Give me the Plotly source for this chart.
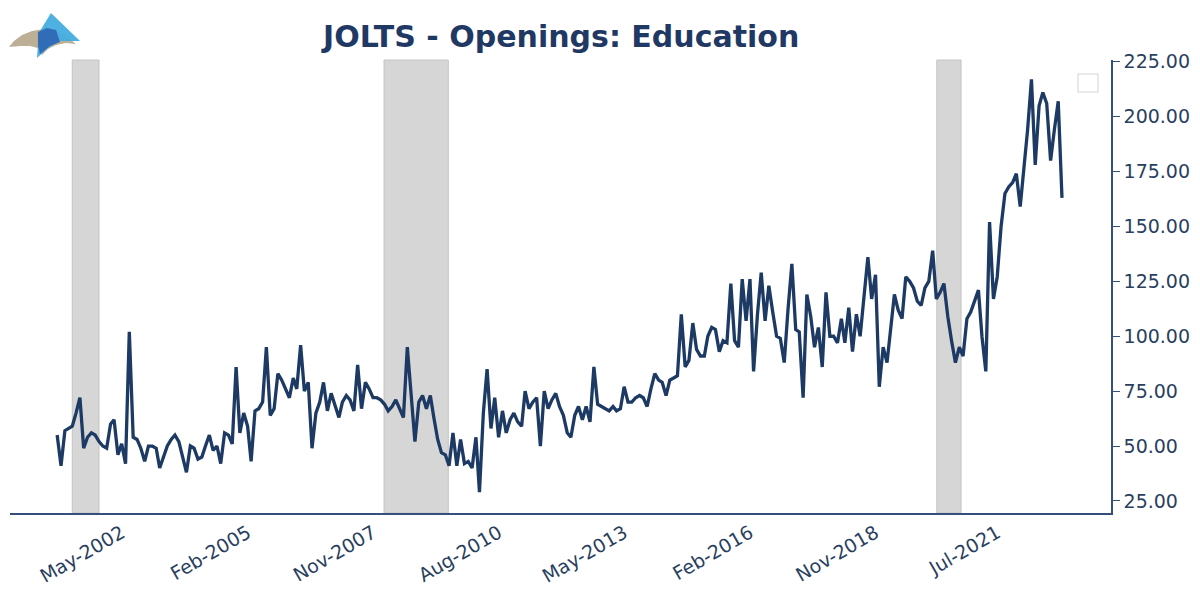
import pandas as pd
import plotly.graph_objects as go

# Monthly job openings, Education (thousands), Dec-2000 onwards
START_MONTH = "2000-12-01"
OPENINGS = [
    55, 41, 57, 58, 59, 65, 72, 49, 54, 56, 55, 52, 50, 49, 60, 62, 46, 51, 42, 102,
    54, 53, 49, 43, 50, 50, 49, 40, 45, 50, 53, 55, 52, 45, 38, 50, 49, 44, 45, 50,
    55, 48, 50, 42, 56, 55, 51, 86, 56, 65, 59, 43, 66, 67, 70, 95, 64, 67, 83, 80,
    76, 72, 81, 76, 96, 75, 79, 49, 65, 70, 79, 66, 74, 68, 63, 70, 73, 71, 66, 87,
    67, 79, 76, 72, 72, 71, 69, 66, 68, 71, 67, 63, 95, 72, 52, 70, 73, 67, 73, 63,
    53, 47, 46, 41, 56, 41, 53, 42, 43, 40, 54, 29, 65, 85, 58, 72, 54, 66, 56, 62,
    65, 61, 59, 75, 67, 70, 72, 50, 75, 67, 71, 74, 68, 64, 56, 54, 64, 68, 62, 68,
    61, 86, 69, 68, 67, 66, 68, 66, 67, 77, 70, 70, 72, 73, 72, 68, 76, 83, 80, 79,
    73, 80, 81, 82, 110, 86, 89, 106, 94, 91, 91, 100, 104, 103, 93, 98, 97, 124, 98, 95,
    126, 107, 126, 84, 110, 129, 107, 123, 111, 100, 99, 88, 112, 133, 103, 102, 72, 119, 109, 95,
    104, 86, 120, 100, 100, 97, 108, 97, 113, 93, 110, 100, 118, 136, 117, 128, 77, 95, 88, 104,
    119, 112, 108, 127, 125, 122, 116, 114, 122, 125, 139, 117, 120, 124, 109, 98, 88, 95, 91, 108,
    111, 116, 121, 100, 84, 152, 117, 127, 150, 165, 168, 170, 174, 159, 176, 194, 217, 178, 205, 211,
    206, 180, 194, 207, 163,
]

# Shaded recession periods
REC_START = ["2001-04-01", "2008-01-28", "2020-03-05"]
REC_END = ["2001-11-01", "2009-06-25", "2020-09-15"]

TICK_DATES = ["2002-05-01", "2005-02-01", "2007-11-01", "2010-08-01",
              "2013-05-01", "2016-02-01", "2018-11-01", "2021-07-01"]
TICK_TEXT = ["May-2002", "Feb-2005", "Nov-2007", "Aug-2010",
             "May-2013", "Feb-2016", "Nov-2018", "Jul-2021"]

NAVY = "#1c3a63"
TEXT = "#2a3f5f"

W, H = 1200, 592
OFF = 8  # page body margin
# plot area in page pixels
PLOT_L, PLOT_R, PLOT_T, PLOT_B = 10, 1111, 60, 513


def px_path(points):
    """Turn page-pixel points into a closed paper-space svg path."""
    def conv(p):
        x = (p[0] - PLOT_L) / (PLOT_R - PLOT_L)
        y = (PLOT_B - p[1]) / (PLOT_B - PLOT_T)
        return f"{x:.4f},{y:.4f}"
    return "M " + " L ".join(conv(p) for p in points) + " Z"


def add_logo(fig):
    """Small sail logo in the top-left corner."""
    beige = [(9, 47), (14, 41), (22, 35), (32, 31), (44, 29), (56, 31), (66, 36), (76, 44),
             (66, 43), (56, 45), (48, 49), (42, 55), (38, 48), (30, 46), (20, 46)]
    light = [(51, 13), (80, 41), (60, 41), (48, 48), (37, 58), (38, 45), (40, 31)]
    dark = [(38, 32), (47, 28), (56, 30), (60, 42), (50, 46), (40, 54), (38, 45)]
    for pts, col in [(beige, "#b9ab8f"), (light, "#45ade0"), (dark, "#2f69b3")]:
        fig.add_shape(type="path", path=px_path(pts), xref="paper", yref="paper",
                      fillcolor=col, line=dict(width=0), opacity=0.95, layer="above")


dates = pd.date_range(START_MONTH, periods=len(OPENINGS), freq="MS")

fig = go.Figure()
fig.add_trace(go.Scatter(
    x=dates, y=OPENINGS, mode="lines", name="",
    line=dict(color=NAVY, width=3.3), showlegend=False,
))

for x0, x1 in zip(REC_START, REC_END):
    fig.add_vrect(x0=x0, x1=x1, fillcolor="#d6d6d6", opacity=1,
                  line=dict(color="#c4c4c4", width=1), layer="below")

add_logo(fig)

# empty legend frame
fig.add_shape(type="rect", xref="paper", yref="paper",
              x0=(1078 - PLOT_L) / (PLOT_R - PLOT_L), x1=(1098 - PLOT_L) / (PLOT_R - PLOT_L),
              y0=(PLOT_B - 92) / (PLOT_B - PLOT_T), y1=(PLOT_B - 74) / (PLOT_B - PLOT_T),
              line=dict(color="#e2e2e2", width=1.5), fillcolor="white")

fig.update_layout(
    width=W, height=H,
    margin=dict(l=PLOT_L - OFF, r=W - (PLOT_R - OFF), t=PLOT_T - OFF,
                b=H - (PLOT_B - OFF), autoexpand=False),
    paper_bgcolor="white", plot_bgcolor="white",
    font=dict(family="DejaVu Sans", color=TEXT, size=19),
    title=dict(text="<b>JOLTS - Openings: Education</b>", x=(323 - OFF) / W, xanchor="left",
               y=1 - 28 / H, yanchor="middle",
               font=dict(family="DejaVu Sans", size=30, color="#1f3864")),
)
fig.update_xaxes(
    type="date", range=["1999-11-20", "2023-12-28"],
    tickvals=TICK_DATES, ticktext=TICK_TEXT, tickangle=-30,
    showgrid=False, zeroline=False, showline=True, linecolor="#34507a", linewidth=1.5,
    ticks="", tickfont=dict(size=19, color=TEXT),
)
fig.update_yaxes(
    side="right", range=[19.5, 225.8], dtick=25, tick0=25, tickformat=".2f",
    showgrid=False, zeroline=False, showline=True, linecolor="#34507a", linewidth=1.5,
    ticks="outside", ticklen=7, tickcolor="#34507a", tickfont=dict(size=19, color=TEXT),
)

fig.write_html("out.html")
